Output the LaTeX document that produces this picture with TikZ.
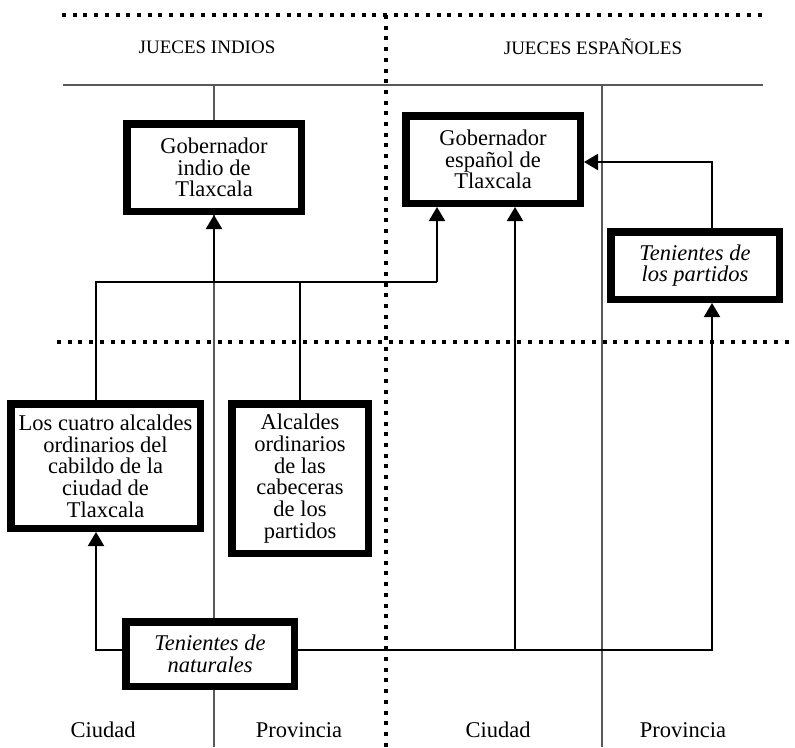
\documentclass[tikz,border=0pt]{standalone}
\usepackage{fontspec}
\setmainfont{Liberation Serif}
\usetikzlibrary{arrows.meta}
\begin{document}
\begin{tikzpicture}[x=1pt,y=-1pt,
 box/.style={draw=black, line width=7.5pt, fill=white, align=center, inner sep=0pt, font=\fontsize{22.5}{21.7}\selectfont},
 thinline/.style={draw=black!65, line width=1.3pt},
 dots/.style={draw=black, line width=4pt, dash pattern=on 4pt off 6.7pt},
 conn/.style={draw=black, line width=2pt},
 arr/.style={conn, -{Triangle[length=14pt,width=16pt]}},
 lab/.style={font=\fontsize{22.5}{22}\selectfont, inner sep=0pt},
 head/.style={font=\fontsize{19}{20}\selectfont, inner sep=0pt}]
\useasboundingbox (0,0) rectangle (795,747);

% frame lines
\draw[thinline] (63,85) -- (763,85);
\draw[thinline] (214,85) -- (214,747);
\draw[thinline] (602,85) -- (602,747);
\draw[dots] (62,15) -- (763,15);
\draw[dots] (386,15) -- (386,747);
\draw[dots] (57,342) -- (795,342);

% headings and labels
\node[head] (hi) at (207,47) {JUECES INDIOS};
\node[head] (he) at (593,47) {JUECES ESPAÑOLES};
\node[lab] (c1) at (103,730) {Ciudad};
\node[lab] (p1) at (299,730) {Provincia};
\node[lab] (c2) at (498,730) {Ciudad};
\node[lab] (p2) at (683,730) {Provincia};

% boxes
\node[box, minimum width=174.5pt, minimum height=87.5pt] (gi) at (214,167.5) {Gobernador\\indio de\\Tlaxcala};
\node[box, minimum width=174.5pt, minimum height=87.5pt] (ge) at (493,159.5) {Gobernador\\español de\\Tlaxcala};
\node[box, minimum width=168.5pt, minimum height=67.5pt] (tp) at (695,265.5) {\itshape Tenientes de\\\itshape los partidos};
\node[box, minimum width=189.5pt, minimum height=124.5pt] (lc) at (105.5,466) {Los cuatro alcaldes\\ordinarios del\\cabildo de la\\ciudad de\\Tlaxcala};
\node[box, minimum width=136.5pt, minimum height=149.5pt] (al) at (300,478.5) {Alcaldes\\ordinarios\\de las\\cabeceras\\de los\\partidos};
\node[box, minimum width=168.5pt, minimum height=64.5pt] (tn) at (210,654) {\itshape Tenientes de\\\itshape naturales};

% junction coordinates
\coordinate (hL) at (96,282);
\coordinate (hM) at (214,282);
\coordinate (hA) at (300,282);
\coordinate (hR) at (437,282);
\coordinate (bL) at (96,650);
\coordinate (bM) at (515,650);
\coordinate (bR) at (712,650);
\coordinate (tR) at (712,162);

% connectors
\draw[conn] (lc.north -| hL) -- (hL) -- (hR);
\draw[conn] (al.north) -- (hA);
\draw[arr] (hM) -- (gi.south);
\draw[arr] (hR) -- (ge.south -| hR);
\draw[arr] (tn.west |- bL) -- (bL) -- (lc.south -| bL);
\draw[arr] (tn.east |- bR) -- (bR) -- (tp.south -| bR);
\draw[arr] (bM) -- (ge.south -| bM);
\draw[arr] (tp.north -| tR) -- (tR) -- (ge.east |- tR);
\end{tikzpicture}
\end{document}
